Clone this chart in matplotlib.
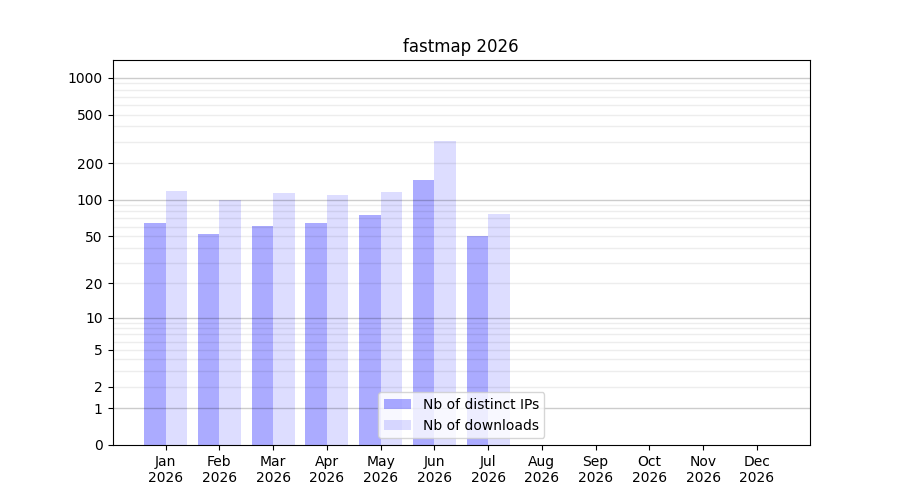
import numpy as np
import matplotlib
matplotlib.use("Agg")
import matplotlib.pyplot as plt

title = "fastmap 2026"
months = ["Jan", "Feb", "Mar", "Apr", "May", "Jun", "Jul", "Aug", "Sep", "Oct", "Nov", "Dec"]
year = "2026"
ips = [64, 52, 61, 64, 75, 146, 50, 0, 0, 0, 0, 0]
downloads = [119, 100, 114, 110, 116, 305, 76, 0, 0, 0, 0, 0]
ytick_values = [0, 1, 2, 5, 10, 20, 50, 100, 200, 500, 1000]

fig, ax = plt.subplots(figsize=(9, 5), dpi=100)
ax.set_yscale("function", functions=(lambda v: np.log10(np.maximum(v, 0) + 1),
                                      lambda t: 10 ** t - 1))
x = np.arange(len(months))
ax.bar(x - 0.2, ips, width=0.4, color="blue", alpha=0.33, label="Nb of distinct IPs")
ax.bar(x + 0.2, downloads, width=0.4, color="blue", alpha=0.133, label="Nb of downloads")

ax.set_xticks(x)
ax.set_xticklabels([f"{m}\n{year}" for m in months])
ax.set_ylim(0, 1400)
ax.set_yticks(ytick_values)
ax.set_yticklabels([str(v) for v in ytick_values])

major = [1, 10, 100, 1000]
minor = [m * d for d in [1, 10, 100] for m in range(2, 10)]
for v in major:
    ax.axhline(v, color="black", lw=1.0, alpha=0.2, zorder=3)
for v in minor:
    ax.axhline(v, color="black", lw=1.0, alpha=0.07, zorder=3)

ax.set_title(title)
ax.legend(loc="lower center")
fig.savefig("out.png")
